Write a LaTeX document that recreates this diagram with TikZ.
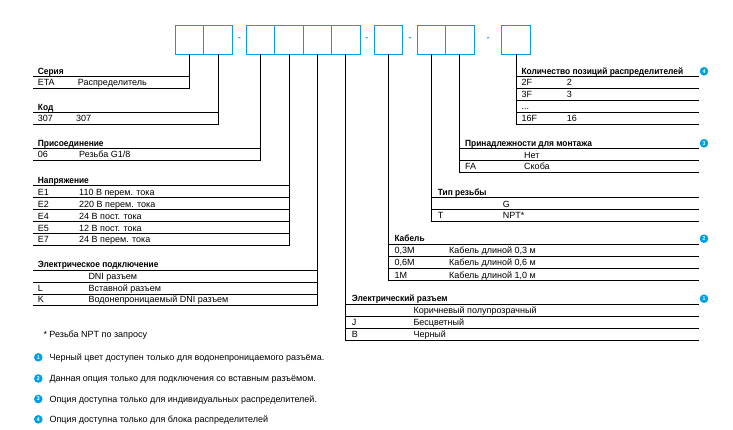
\documentclass[tikz,border=0pt]{standalone}
\usepackage{fontspec}
\setmainfont{Liberation Sans}[BoldFeatures={FakeStretch=0.93}]
\definecolor{accent}{RGB}{0,160,227}
\begin{document}
\begin{tikzpicture}[x=1pt,y=-1pt,
  cell/.style={draw=accent,line width=0.9pt,minimum width=28.5pt,minimum height=28.7pt,inner sep=0pt},
  sep/.style={text=accent,font=\bfseries\fontsize{9}{10}\selectfont,inner sep=0pt},
  conn/.style={black,line width=0.8pt},
  rule/.style={black,line width=0.8pt},
  ttl/.style={font=\bfseries\fontsize{9}{10}\selectfont,anchor=base west,inner sep=0pt},
  txt/.style={font=\fontsize{9}{10}\selectfont,anchor=base west,inner sep=0pt},
  badge/.style={circle,fill=accent,text=white,font=\bfseries\fontsize{5.5}{6}\selectfont,minimum size=8.6pt,inner sep=0pt}]
\useasboundingbox (0,0) rectangle (733,429);
% code boxes
\node[cell] (b1) at (189.55,39.65) {};
\node[cell] (b2) at (218.05,39.65) {};
\node[sep] (d1) at (239.5,39.5) {-};
\node[cell] (b3) at (260.5,39.65) {};
\node[cell] (b4) at (288.9,39.65) {};
\node[cell] (b5) at (317.3,39.65) {};
\node[cell] (b6) at (345.7,39.65) {};
\node[sep] (d2) at (366.7,39.5) {-};
\node[cell] (b7) at (388.5,39.65) {};
\node[sep] (d3) at (410,39.5) {-};
\node[cell] (b8) at (431.25,39.65) {};
\node[cell] (b9) at (459.75,39.65) {};
\node[sep] (d4) at (488.3,39.5) {-};
\node[cell] (b10) at (516.15,39.65) {};
% table end coordinates
\coordinate (ser) at (33.3,88.3);
\coordinate (kod) at (33.3,124.3);
\coordinate (pri) at (33.3,160);
\coordinate (nap) at (33.3,245.3);
\coordinate (epod) at (33.3,305.3);
\coordinate (eraz) at (699,340.3);
\coordinate (kab) at (699,280.7);
\coordinate (tip) at (699,221.3);
\coordinate (prm) at (699,172.3);
\coordinate (kol) at (699,124.3);
% connectors
\draw[conn] (b1.south) |- (ser);
\draw[conn] (b2.south) |- (kod);
\draw[conn] (b3.south) |- (pri);
\draw[conn] (b4.south) |- (nap);
\draw[conn] (b5.south) |- (epod);
\draw[conn] (b6.south) |- (eraz);
\draw[conn] (b7.south) |- (kab);
\draw[conn] (b8.south) |- (tip);
\draw[conn] (b9.south) |- (prm);
\draw[conn] (b10.south) |- (kol);
% rules of left tables
\draw[rule] (33.3,76.3) -- (189.55,76.3);
\draw[rule] (33.3,112.3) -- (218.05,112.3);
\draw[rule] (33.3,148.7) -- (260.5,148.7);
\foreach \y in {185.3,197.7,209.7,221.7,233.7} \draw[rule] (33.3,\y) -- (288.9,\y);
\foreach \y in {270,282,294} \draw[rule] (33.3,\y) -- (317.3,\y);
% rules of right tables
\foreach \y in {76.3,88.3,100.3,112.3} \draw[rule] (516.15,\y) -- (699,\y);
\foreach \y in {148.7,160.7} \draw[rule] (459.75,\y) -- (699,\y);
\foreach \y in {197.7,209.7} \draw[rule] (431.25,\y) -- (699,\y);
\foreach \y in {244.3,256.3,268.3} \draw[rule] (388.5,\y) -- (699,\y);
\foreach \y in {304.3,316.3,328.3} \draw[rule] (345.7,\y) -- (699,\y);
% Серия
\node[ttl] (t1) at (37.7,74) {Серия};
\node[txt] (t1a) at (37.7,85.8) {ETA};
\node[txt] (t1b) at (77.7,85.8) {Распределитель};
% Код
\node[ttl] (t2) at (37.7,110) {Код};
\node[txt] (t2a) at (37.7,121.8) {307};
\node[txt] (t2b) at (76,121.8) {307};
% Присоединение
\node[ttl] (t3) at (37.7,146.3) {Присоединение};
\node[txt] (t3a) at (37.7,157.6) {06};
\node[txt] (t3b) at (79,157.6) {Резьба G1/8};
% Напряжение
\node[ttl] (t4) at (37.7,183) {Напряжение};
\node[txt] (t4a) at (37.7,195.1) {E1};
\node[txt] (t4b) at (79,195.1) {110 В перем. тока};
\node[txt] (t4c) at (37.7,207.1) {E2};
\node[txt] (t4d) at (79,207.1) {220 В перем. тока};
\node[txt] (t4e) at (37.7,219.1) {E4};
\node[txt] (t4f) at (79,219.1) {24 В пост. тока};
\node[txt] (t4g) at (37.7,231.1) {E5};
\node[txt] (t4h) at (79,231.1) {12 В пост. тока};
\node[txt] (t4i) at (37.7,242.8) {E7};
\node[txt] (t4j) at (79,242.8) {24 В перем. тока};
% Электрическое подключение
\node[ttl] (t5) at (37.7,267.6) {Электрическое подключение};
\node[txt] (t5b) at (88.3,279.4) {DNI разъем};
\node[txt] (t5c) at (37.7,291.4) {L};
\node[txt] (t5d) at (88.3,291.4) {Вставной разъем};
\node[txt] (t5e) at (37.7,302.8) {K};
\node[txt] (t5f) at (88.3,302.8) {Водонепроницаемый DNI разъем};
% Количество позиций
\node[ttl] (t10) at (521.3,74) {Количество позиций распределителей};
\node[badge] (i4) at (704,71.3) {4};
\node[txt] (t10a) at (521.3,85.8) {2F};
\node[txt] (t10b) at (566.7,85.8) {2};
\node[txt] (t10c) at (521.3,97.8) {3F};
\node[txt] (t10d) at (566.7,97.8) {3};
\node[txt] (t10e) at (521.3,109.8) {...};
\node[txt] (t10f) at (521.3,121.8) {16F};
\node[txt] (t10g) at (566.7,121.8) {16};
% Принадлежности
\node[ttl] (t9) at (465,146.3) {Принадлежности для монтажа};
\node[badge] (i3) at (704,143.3) {3};
\node[txt] (t9b) at (524,158.1) {Нет};
\node[txt] (t9c) at (465,169.8) {FA};
\node[txt] (t9d) at (524,169.8) {Скоба};
% Тип резьбы
\node[ttl] (t8) at (437.7,195.3) {Тип резьбы};
\node[txt] (t8b) at (502.7,207.1) {G};
\node[txt] (t8c) at (437.7,218.8) {T};
\node[txt] (t8d) at (502.7,218.8) {NPT*};
% Кабель
\node[ttl] (t7) at (394.3,241.9) {Кабель};
\node[badge] (i2) at (704,238.7) {2};
\node[txt] (t7a) at (394.3,253.7) {0,3M};
\node[txt] (t7b) at (449,253.7) {Кабель длиной 0,3 м};
\node[txt] (t7c) at (394.3,265.7) {0,6M};
\node[txt] (t7d) at (449,265.7) {Кабель длиной 0,6 м};
\node[txt] (t7e) at (394.3,278.1) {1M};
\node[txt] (t7f) at (449,278.1) {Кабель длиной 1,0 м};
% Электрический разъем
\node[ttl] (t6) at (351.7,301.9) {Электрический разъем};
\node[badge] (i1) at (704,298.7) {1};
\node[txt] (t6b) at (413.3,313.7) {Коричневый полупрозрачный};
\node[txt] (t6c) at (351.7,325.7) {J};
\node[txt] (t6d) at (413.3,325.7) {Бесцветный};
\node[txt] (t6e) at (351.7,337.7) {B};
\node[txt] (t6f) at (413.3,337.7) {Черный};
% footnotes
\node[txt] (n0) at (43.3,337.2) {* Резьба NPT по запросу};
\node[badge] (f1) at (38.3,357.3) {1};
\node[txt] (n1) at (49.3,360) {Черный цвет доступен только для водонепроницаемого разъёма.};
\node[badge] (f2) at (38.3,378.5) {2};
\node[txt] (n2) at (49.3,381.5) {Данная опция только для подключения со вставным разъёмом.};
\node[badge] (f3) at (38.3,399) {3};
\node[txt] (n3) at (49.3,402.2) {Опция доступна только для индивидуальных распределителей.};
\node[badge] (f4) at (38.3,419.3) {4};
\node[txt] (n4) at (49.3,422.5) {Опция доступна только для блока распределителей};
\end{tikzpicture}
\end{document}
